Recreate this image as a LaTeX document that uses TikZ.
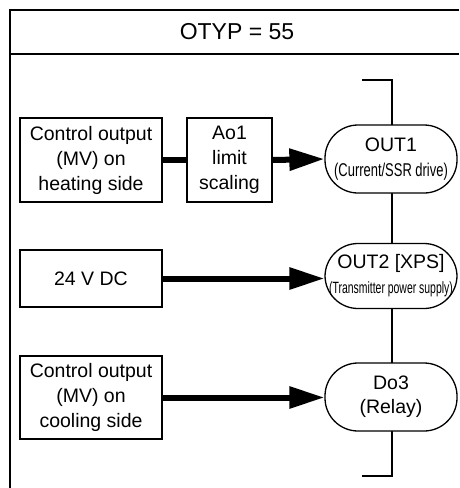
\documentclass[tikz,border=0pt]{standalone}
\usepackage{fontspec}
\setmainfont{Liberation Sans}
\newfontfamily\narrowA[FakeStretch=0.70]{Liberation Sans}
\newfontfamily\narrowB[FakeStretch=0.64]{Liberation Sans}
\usetikzlibrary{arrows.meta}
\begin{document}
\begin{tikzpicture}[x=1pt,y=-1pt,
  frameline/.style={line width=1.6pt},
  blk/.style={draw, line width=1.3pt, minimum width=142pt, inner sep=0pt, align=center,
     font=\fontsize{19.5}{25}\selectfont},
  outbox/.style={draw, line width=1.3pt, fill=white, rounded corners=33pt, minimum width=132pt,
     inner sep=0pt, align=center, font=\fontsize{19.5}{24}\selectfont},
  thick link/.style={line width=6pt},
  bigarrow/.style={line width=6pt, -{Triangle[length=35pt,width=21pt]}},
  busline/.style={line width=1.4pt}]
\useasboundingbox (0,0) rectangle (459,488);
% frame
\draw[frameline] (459,10) -- (10,10) -- (10,490);
\draw[frameline] (10,54) -- (459,54);
\node[font=\fontsize{23}{28}\selectfont] (hdr) at (237,32) {OTYP = 55};
% bus
\coordinate (bt) at (362,80);
\coordinate (bb) at (362,476);
\coordinate (bx) at (392,0);
\draw[busline] (bt) -- (bt -| bx) -- (bb -| bx) -- (bb);
% blocks
\node[blk, minimum height=84pt] (heat) at (91,160) {Control output\\(MV) on\\heating side};
\node[blk, minimum width=85pt, minimum height=84pt] (ao1) at (229.5,160) {Ao1\\limit\\scaling};
\node[blk, minimum height=57pt] (dc) at (91,278.5) {24 V DC};
\node[blk, minimum height=83pt] (cool) at (91,397.5) {Control output\\(MV) on\\cooling side};
% outputs
\node[outbox, minimum height=68pt] (out1) at (391,159) {OUT1\\[1pt]{\narrowA\fontsize{18.5}{22}\selectfont (Current/SSR drive)}};
\node[outbox, minimum height=65pt] (out2) at (391,276) {OUT2 [XPS]\\[1pt]{\narrowB\fontsize{16.3}{20}\selectfont (Transmitter power supply)}};
\node[outbox, minimum height=68pt] (do3) at (391,397) {Do3\\(Relay)};
% connectors
\draw[thick link] (heat.east) -- (ao1.west);
\draw[bigarrow] (ao1.east) -- (out1.west);
\draw[bigarrow] (dc.east) -- (dc.east -| out2.west);
\draw[bigarrow] (cool.east) -- (cool.east -| do3.west);
\end{tikzpicture}
\end{document}
